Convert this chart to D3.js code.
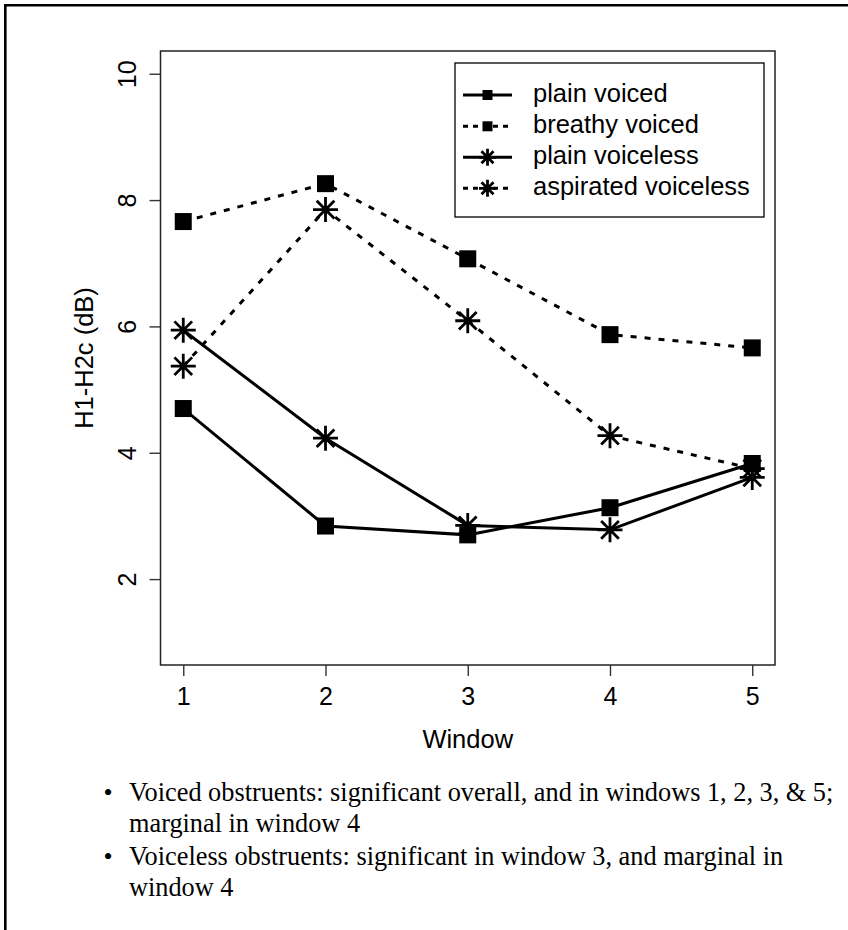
<!DOCTYPE html>
<html><head><meta charset="utf-8">
<script src="https://cdn.jsdelivr.net/npm/d3@7"></script>
<style>
html,body{margin:0;padding:0;background:#fff;}
svg{display:block;}
</style></head>
<body>
<script>
// ---- data ----
const windows = [1, 2, 3, 4, 5];
const plainVoiced = [4.70, 2.84, 2.70, 3.13, 3.83];
const breathyVoiced = [7.66, 8.26, 7.07, 5.87, 5.66];
const plainVoiceless = [5.94, 4.23, 2.85, 2.78, 3.61];
const aspiratedVoiceless = [5.37, 7.85, 6.09, 4.27, 3.75];
const seriesNames = ["plain voiced", "breathy voiced", "plain voiceless", "aspirated voiceless"];
const seriesDashed = [false, true, false, true];
const seriesSymbol = ["square", "square", "star", "star"];
const yTicks = [2, 4, 6, 8, 10];
const xTicks = [1, 2, 3, 4, 5];
const notes = [
  ["Voiced obstruents: significant overall, and in windows 1, 2, 3, & 5;", "marginal in window 4"],
  ["Voiceless obstruents: significant in window 3, and marginal in", "window 4"]
];

const allSeries = [plainVoiced, breathyVoiced, plainVoiceless, aspiratedVoiceless];

const W = 848, H = 930;
const svg = d3.select("body").append("svg").attr("width", W).attr("height", H);
svg.append("rect").attr("width", W).attr("height", H).attr("fill", "#fff");

// outer frame (top + left edges visible)
svg.append("path").attr("d", `M5.3,${H} L5.3,5.3 L${W},5.3`)
  .attr("fill", "none").attr("stroke", "#000").attr("stroke-width", 2.6);

const plot = {left: 160.5, right: 775, top: 51, bottom: 665};
const x = d3.scaleLinear().domain([0.84, 5.16]).range([plot.left, plot.right]);
const y = d3.scaleLinear().domain([0.64, 10.36]).range([plot.bottom, plot.top]);

const sans = "'Liberation Sans', Arial, Helvetica, sans-serif";
const serif = "'Liberation Serif', 'Times New Roman', Times, serif";

// plot box
svg.append("rect").attr("x", plot.left).attr("y", plot.top)
  .attr("width", plot.right - plot.left).attr("height", plot.bottom - plot.top)
  .attr("fill", "none").attr("stroke", "#222").attr("stroke-width", 1.5);

// axes
const xAxis = d3.axisBottom(x).tickValues(xTicks).tickSize(11).tickPadding(10).tickFormat(d3.format("d"));
const gx = svg.append("g").attr("transform", `translate(0,${plot.bottom})`).call(xAxis);
gx.select(".domain").remove();
gx.selectAll(".tick line").attr("stroke", "#333").attr("stroke-width", 1.4);
gx.selectAll(".tick text").attr("font-family", sans).attr("font-size", 25).attr("fill", "#000")
  .attr("dy", null).attr("y", 40);

const yAxis = d3.axisLeft(y).tickValues(yTicks).tickSize(11).tickFormat(d3.format("d"));
const gy = svg.append("g").attr("transform", `translate(${plot.left},0)`).call(yAxis);
gy.select(".domain").remove();
gy.selectAll(".tick line").attr("stroke", "#333").attr("stroke-width", 1.4);
gy.selectAll(".tick text").attr("font-family", sans).attr("font-size", 25).attr("fill", "#000")
  .attr("x", null).attr("dy", null).attr("text-anchor", "middle")
  .attr("transform", `translate(${136 - plot.left},0) rotate(-90)`);

// axis titles
svg.append("text").attr("x", (plot.left + plot.right) / 2).attr("y", 748)
  .attr("text-anchor", "middle").attr("font-family", sans).attr("font-size", 25.5).text("Window");
svg.append("text").attr("transform", `translate(93,${(plot.top + plot.bottom) / 2}) rotate(-90)`)
  .attr("text-anchor", "middle").attr("font-family", sans).attr("font-size", 25.5).text("H1-H2c (dB)");

// symbols
function drawSymbol(g, type, cx, cy, s) {
  if (type === "square") {
    g.append("rect").attr("x", cx - s / 2).attr("y", cy - s / 2).attr("width", s).attr("height", s).attr("fill", "#000");
  } else {
    const r = s / 2, d = r / Math.SQRT2;
    const p = `M${cx - r},${cy}L${cx + r},${cy}M${cx},${cy - r}L${cx},${cy + r}` +
      `M${cx - d},${cy - d}L${cx + d},${cy + d}M${cx - d},${cy + d}L${cx + d},${cy - d}`;
    g.append("path").attr("d", p).attr("stroke", "#000").attr("stroke-width", 2.8).attr("fill", "none");
  }
}

const line = d3.line().x((d, i) => x(windows[i])).y(d => y(d));
allSeries.forEach((vals, k) => {
  const g = svg.append("g");
  g.append("path").attr("d", line(vals)).attr("fill", "none").attr("stroke", "#000")
    .attr("stroke-width", 3).attr("stroke-dasharray", seriesDashed[k] ? "6,8" : null);
  vals.forEach((v, i) => drawSymbol(g, seriesSymbol[k], x(windows[i]), y(v), seriesSymbol[k] === "square" ? 17 : 25));
});

// legend
const lg = svg.append("g");
lg.append("rect").attr("x", 455).attr("y", 63).attr("width", 309).attr("height", 154)
  .attr("fill", "#fff").attr("stroke", "#000").attr("stroke-width", 1.3);
const rowY = [95, 126.3, 157.3, 188.3];
seriesNames.forEach((name, k) => {
  const cy = rowY[k];
  lg.append("line").attr("x1", 463).attr("x2", 512).attr("y1", cy).attr("y2", cy)
    .attr("stroke", "#000").attr("stroke-width", 3).attr("stroke-dasharray", seriesDashed[k] ? "5,5" : null);
  drawSymbol(lg, seriesSymbol[k], 487.5, cy, seriesSymbol[k] === "square" ? 10 : 17);
  lg.append("text").attr("x", 533).attr("y", cy + 6.5).attr("font-family", sans).attr("font-size", 25.5).text(name);
});

// bullet notes
const lineYs = [[801, 832], [865, 896]];
notes.forEach((lines, k) => {
  svg.append("text").attr("x", 108).attr("y", lineYs[k][0]).attr("text-anchor", "middle")
    .attr("font-family", serif).attr("font-size", 26).text("•");
  lines.forEach((t, j) => {
    svg.append("text").attr("x", 129).attr("y", lineYs[k][j]).attr("font-family", serif)
      .attr("font-size", 26.3).text(t);
  });
});
</script>
</body></html>
